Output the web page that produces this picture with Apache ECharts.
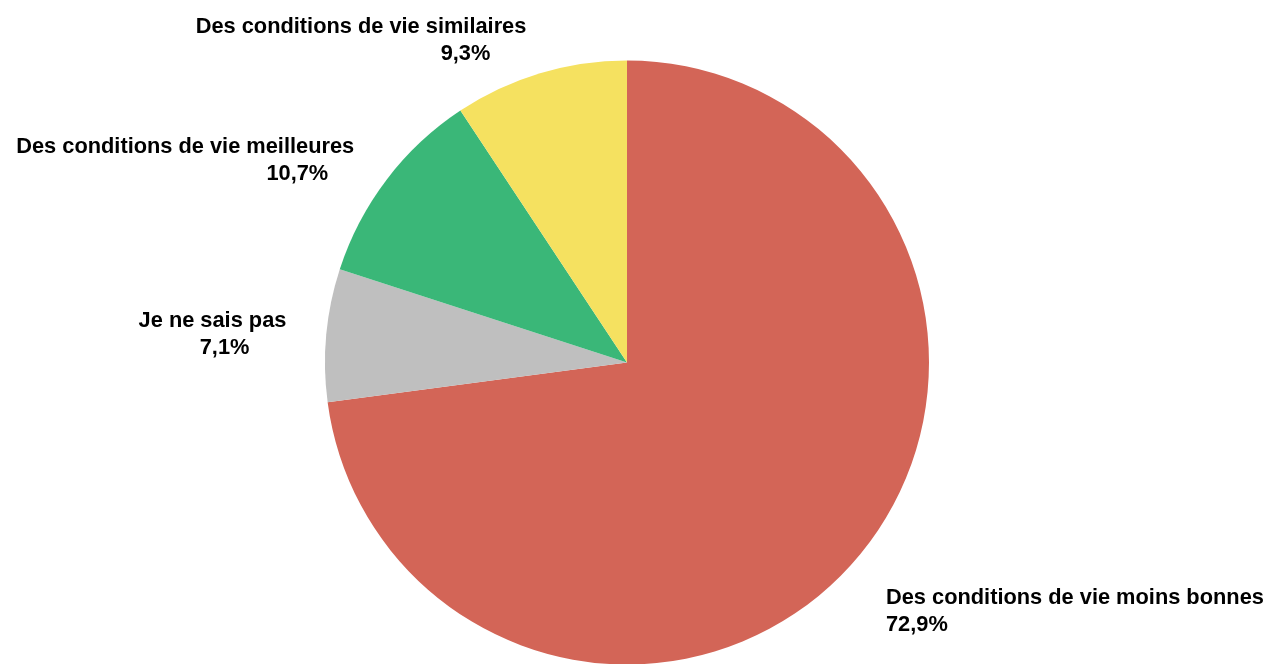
<!DOCTYPE html>
<html>
<head>
<meta charset="utf-8">
<script src="https://cdn.jsdelivr.net/npm/echarts@6/dist/echarts.min.js"></script>
<style>
  html, body { margin: 0; padding: 0; background: #ffffff; }
  #chart { width: 1270px; height: 664px; }
</style>
</head>
<body>
<div id="chart"></div>
<script>
// Answer categories, in clockwise order from the top of the pie
const categories = [
  'Des conditions de vie moins bonnes',
  'Je ne sais pas',
  'Des conditions de vie meilleures',
  'Des conditions de vie similaires'
];
// Share of respondents, in percent
const shares = [72.9, 7.1, 10.7, 9.3];
const colors = ['#D36557', '#BFBFBF', '#3AB778', '#F5E160'];

// Horizontal indent of the percentage line under each category name
const pctIndent = [0, 37, 26, 36];

const fmtPct = v => v.toFixed(1).replace('.', ',') + '%';

const font = '"Liberation Sans", Arial, sans-serif';
const rich = { n: { fontSize: 21.8, fontWeight: 'bold', color: '#000', lineHeight: 27, fontFamily: font } };
pctIndent.forEach((pad, i) => {
  rich['p' + i] = { fontSize: 21.8, fontWeight: 'bold', color: '#000', lineHeight: 27,
                    fontFamily: font, padding: [0, pad, 0, 0] };
});

const chart = echarts.init(document.getElementById('chart'), null, { renderer: 'canvas' });
chart.setOption({
  animation: false,
  backgroundColor: '#ffffff',
  series: [{
    type: 'pie',
    center: [627, 362.5],
    radius: 302,
    startAngle: 90,
    clockwise: true,
    avoidLabelOverlap: false,
    data: categories.map((name, i) => ({
      name: name,
      value: shares[i],
      itemStyle: { color: colors[i] }
    })),
    itemStyle: { borderWidth: 0 },
    emphasis: { disabled: true },
    label: {
      show: true,
      position: 'outside',
      formatter: p => '{n|' + p.name + '}\n{p' + p.dataIndex + '|' + fmtPct(p.value) + '}',
      rich: rich
    },
    labelLine: { show: false, length: 37, length2: 0 },
    labelLayout: p => (p.dataIndex === 0 ? { dy: 26, dx: -1 } : { dy: 3, dx: 2 })
  }]
});
</script>
</body>
</html>
